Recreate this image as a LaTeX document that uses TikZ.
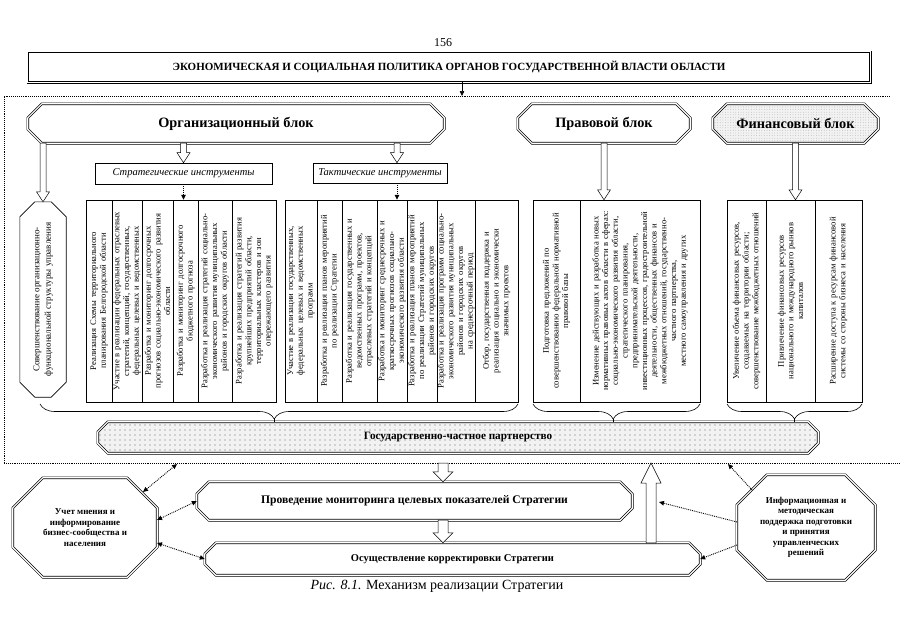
\documentclass[tikz,border=0pt]{standalone}
\usepackage{fontspec}
\setmainfont{Liberation Serif}
\usetikzlibrary{calc,arrows.meta,decorations.pathreplacing,patterns,patterns.meta,backgrounds}

\newcommand\chamf[3][]{%
  \begin{pgfonlayer}{background}
  \draw[#1] ($(#2.north west)+(#3,0)$) -- ($(#2.north east)+(-#3,0)$)
    -- ($(#2.north east)+(0,#3)$) -- ($(#2.south east)+(0,-#3)$)
    -- ($(#2.south east)+(-#3,0)$) -- ($(#2.south west)+(#3,0)$)
    -- ($(#2.south west)+(0,-#3)$) -- ($(#2.north west)+(0,#3)$) -- cycle;
  \end{pgfonlayer}}

\newcommand\hollowar[5]{%
  \path[hollow] let \p1=(#1), \p2=(#2) in
    (\x1-#3,\y1) -- (\x1+#3,\y1) -- (\x1+#3,\y2+#5) -- (\x1+#4,\y2+#5) -- (\x1,\y2)
    -- (\x1-#4,\y2+#5) -- (\x1-#3,\y2+#5) -- cycle;}

\begin{document}
\begin{tikzpicture}[x=1pt,y=-1pt,
  dbl/.style={draw=black, line width=0.7pt, double=white, double distance=1.2pt},
  ttl/.style={inner sep=0pt, font=\fontsize{14.3}{17}\selectfont\bfseries},
  hollow/.style={draw, fill=white, line width=0.5pt},
  dotar/.style={line width=0.9pt, densely dotted, -{Triangle[length=5pt, width=4.5pt]}},
  dotarr/.style={line width=0.9pt, densely dotted, {Triangle[length=5pt, width=4.5pt]}-{Triangle[length=5pt, width=4.5pt]}},
  frame/.style={line width=0.9pt, densely dotted},
  cell/.style={rotate=90, text width=196pt, align=center, inner sep=0pt, font=\fontsize{8.6}{9.7}\selectfont},
  tbl/.style={draw, line width=0.5pt, inner sep=0pt},
  lbl/.style={draw, line width=0.6pt, inner sep=0pt, font=\fontsize{10.5}{12}\selectfont\itshape},
  octxt/.style={inner sep=0pt, align=center, font=\fontsize{9}{10.5}\selectfont\bfseries},
  boxtxt/.style={inner sep=0pt, font=\fontsize{11}{13}\selectfont\bfseries},
  brc/.style={decorate, line width=0.6pt},
]
\useasboundingbox (0,0) rectangle (905,640);
\begin{pgfonlayer}{background}
\fill[white] (0,0) rectangle (905,640);
\end{pgfonlayer}

% page number and header
\node[font=\fontsize{12}{14}\selectfont] (pg) at (443,43) {156};
\node[inner sep=0pt, minimum width=842pt, minimum height=30pt, font=\fontsize{11}{13}\selectfont\bfseries] (hdr) at (449,67)
  {ЭКОНОМИЧЕСКАЯ И СОЦИАЛЬНАЯ ПОЛИТИКА ОРГАНОВ ГОСУДАРСТВЕННОЙ ВЛАСТИ ОБЛАСТИ};
\draw[dbl] (hdr.north west) rectangle (hdr.south east);
\coordinate (ha) at (462,96);
\draw[line width=0.6pt, -{Triangle[length=5pt,width=4.5pt]}] (hdr.south -| ha) -- (ha);

% dotted frame
\coordinate (fTL) at (4,96); \coordinate (fTR) at (890,96);
\coordinate (fBL) at (4,463); \coordinate (fBR) at (900,463);
\draw[frame] (fBL) -- (fTL) -- (fTR);
\draw[frame] (fBL) -- (fBR);

% blocks
\node[ttl, minimum width=416pt, minimum height=39pt] (org) at (236,123.5) {Организационный блок};
\chamf[dbl, fill=white]{org}{14}
\node[ttl, minimum width=172pt, minimum height=39pt] (prav) at (604,123.5) {Правовой блок};
\chamf[dbl, fill=white]{prav}{14}
\node[ttl, minimum width=165pt, minimum height=39pt] (fin) at (795.5,123.5) {Финансовый блок};
\chamf[dbl, preaction={fill=gray!10}, pattern={Dots[distance=2.6pt, radius=0.4pt]}, pattern color=gray!65]{fin}{14}

% left tall octagon
\node[inner sep=0pt, minimum width=46pt, minimum height=195pt] (sov) at (43,299.5) {};
\chamf[draw, line width=0.6pt, fill=white]{sov}{15}
\node[rotate=90, align=center, font=\fontsize{9}{11.5}\selectfont, inner sep=0pt] (sovt) at (sov.center)
  {Совершенствование организационно-\\функциональной структуры управления};

% instrument labels
\node[lbl, minimum width=177pt, minimum height=21pt] (strat) at (183.5,173.5) {Стратегические инструменты};
\node[lbl, minimum width=134pt, minimum height=20pt] (tact) at (380,173) {Тактические инструменты};
\coordinate (ta) at (397,163);

% strategic table
\node[tbl, minimum width=190pt, minimum height=202pt] (tabS) at (181,301) {};
\foreach \xx in {112,142,173,198,232} \draw[line width=0.5pt] (\xx,200) -- (\xx,402);
\node[cell] (s1) at (99,301) {Реализация Схемы территориального\\планирования Белгородской области};
\node[cell] (s2) at (127,301) {Участие в реализации федеральных отраслевых\\стратегий, концепций, государственных,\\федеральных целевых и ведомственных};
\node[cell] (s3) at (157.5,301) {Разработка и мониторинг долгосрочных\\прогнозов социально-экономического развития\\области};
\node[cell] (s4) at (185.5,301) {Разработка и мониторинг долгосрочного\\бюджетного прогноза};
\node[cell] (s5) at (215,301) {Разработка и реализация стратегий социально-\\экономического развития муниципальных\\районов и городских округов области};
\node[cell] (s6) at (254,301) {Разработка и реализация стратегий развития\\крупнейших предприятий области,\\территориальных кластеров и зон\\опережающего развития};

% tactical table
\node[tbl, minimum width=233pt, minimum height=202pt] (tabT) at (401.5,301) {};
\foreach \xx in {317,342,377,407,437,475} \draw[line width=0.5pt] (\xx,200) -- (\xx,402);
\node[cell] (t1) at (301,301) {Участие в реализации государственных,\\федеральных целевых и ведомственных\\программ};
\node[cell] (t2) at (329.5,301) {Разработка и реализация планов мероприятий\\по реализации Стратегии};
\node[cell] (t3) at (359.5,301) {Разработка и реализация государственных и\\ведомственных программ, проектов,\\отраслевых стратегий и концепций};
\node[cell] (t4) at (392,301) {Разработка и мониторинг среднесрочных и\\краткосрочных прогнозов социально-\\экономического развития области};
\node[cell] (t5) at (422,301) {Разработка и реализация планов мероприятий\\по реализации Стратегий муниципальных\\районов и городских округов};
\node[cell] (t6) at (456,301) {Разработка и реализация программ социально-\\экономического развития муниципальных\\районов и городских округов\\на среднесрочный период};
\node[cell] (t7) at (496.5,301) {Отбор, государственная поддержка и\\реализация социально и экономически\\значимых проектов};

% legal table
\node[tbl, minimum width=167pt, minimum height=202pt] (tabL) at (616.5,301) {};
\draw[line width=0.5pt] (580,200) -- (580,402);
\node[cell] (l1) at (556.5,301) {Подготовка предложений по\\совершенствованию федеральной нормативной\\правовой базы};
\node[cell] (l2) at (640,301) {Изменение действующих и разработка новых\\нормативных правовых актов области в сферах:\\социально-экономического развития области,\\стратегического планирования,\\предпринимательской деятельности,\\инвестиционных процессов, градостроительной\\деятельности, общественных финансов и\\межбюджетных отношений, государственно-\\частного партнерства,\\местного самоуправления и других};

% financial table
\node[tbl, minimum width=135pt, minimum height=202pt] (tabF) at (794.5,301) {};
\foreach \xx in {766,815} \draw[line width=0.5pt] (\xx,200) -- (\xx,402);
\node[cell] (f1) at (746.5,301) {Увеличение объема финансовых ресурсов,\\создаваемых на территории области;\\совершенствование межбюджетных отношений};
\node[cell] (f2) at (790.5,301) {Привлечение финансовых ресурсов\\национального и международного рынков\\капиталов};
\node[cell] (f3) at (838.5,301) {Расширение доступа к ресурсам финансовой\\системы со стороны бизнеса и населения};

% arrows from blocks
\hollowar{org.south -| sov.north}{sov.north}{3pt}{6.5pt}{10pt}
\hollowar{org.south -| strat.north}{strat.north}{3pt}{6.5pt}{10pt}
\hollowar{org.south -| ta}{ta |- tact.north}{3pt}{6.5pt}{10pt}
\hollowar{prav.south}{prav.south |- tabL.north}{3pt}{6.5pt}{10pt}
\hollowar{fin.south}{fin.south |- tabF.north}{3pt}{6.5pt}{10pt}
\draw[dotar] (strat.south) -- (strat.south |- tabS.north);
\draw[dotar] (ta |- tact.south) -- (ta |- tabT.north);

% partnership
\node[inner sep=0pt, minimum width=720pt, minimum height=31pt, font=\fontsize{11.2}{13}\selectfont\bfseries] (pp) at (458,437.5) {Государственно-частное партнерство};
\chamf[dbl, preaction={fill=gray!10}, pattern={Dots[distance=5pt, radius=0.55pt]}, pattern color=black!60]{pp}{10}

% braces
\draw[brc, decoration={brace, mirror, amplitude=15pt, aspect=0.49}] (40,404) -- (518,404);
\draw[brc, decoration={brace, mirror, amplitude=15pt, aspect=0.48}] (533,404) -- (700,404);
\draw[brc, decoration={brace, mirror, amplitude=15pt}] (727,404) -- (862,404);
\coordinate (bt1) at (274.2,419); \coordinate (bt2) at (613.2,419); \coordinate (bt3) at (794.5,419);
\draw[line width=0.6pt] (bt1) -- (bt1 |- pp.north);
\draw[line width=0.6pt] (bt2) -- (bt2 |- pp.north);
\draw[line width=0.6pt] (bt3) -- (bt3 |- pp.north);

% monitoring and correction
\node[boxtxt, minimum width=435pt, minimum height=38pt, font=\fontsize{11.6}{13}\selectfont\bfseries] (mon) at (414.5,501) {Проведение мониторинга целевых показателей Стратегии};
\chamf[dbl, fill=white]{mon}{12}
\node[boxtxt, minimum width=495pt, minimum height=32pt, font=\fontsize{10.5}{13}\selectfont\bfseries] (corr) at (452.5,559) {Осуществление корректировки Стратегии};
\chamf[dbl, fill=white]{corr}{11}
\coordinate (fm) at (443,463);
\hollowar{fm}{fm |- mon.north}{5pt}{10pt}{10pt}
\hollowar{mon.south -| fm}{corr.north -| fm}{5pt}{10pt}{10pt}
\coordinate (ua) at (651,463);
\hollowar{corr.north -| ua}{ua}{5pt}{10pt}{-20pt}

% octagons
\node[octxt, minimum width=144pt, minimum height=99pt] (uchet) at (85,527.5) {Учет мнения и\\информирование\\бизнес-сообщества и\\населения};
\chamf[dbl, fill=white]{uchet}{30}
\node[octxt, minimum width=138pt, minimum height=105pt] (info) at (806,527.5) {Информационная и\\методическая\\поддержка подготовки\\и принятия\\управленческих\\решений};
\chamf[dbl, fill=white]{info}{30}

% dotted connectors
\coordinate (fL) at (177,464); \coordinate (u1) at (143,492);
\coordinate (u2) at (157,520); \coordinate (u3) at (157,543);
\draw[dotarr] (u1) -- (fL);
\draw[dotarr] (u2) -- (mon.west);
\draw[dotarr] (u3) -- (corr.west);
\coordinate (fR) at (728,464); \coordinate (i1) at (752,490);
\coordinate (i2) at (737,522); \coordinate (i3) at (737,545);
\coordinate (r2e) at (659,502);
\draw[dotar] (i1) -- (fR);
\draw[dotar] (i2) -- (r2e);
\draw[dotar] (i3) -- (corr.east);

% caption
\node[font=\fontsize{14}{16}\selectfont] (cap) at (437,586) {\textit{Рис. 8.1.} Механизм реализации Стратегии};
\end{tikzpicture}
\end{document}
